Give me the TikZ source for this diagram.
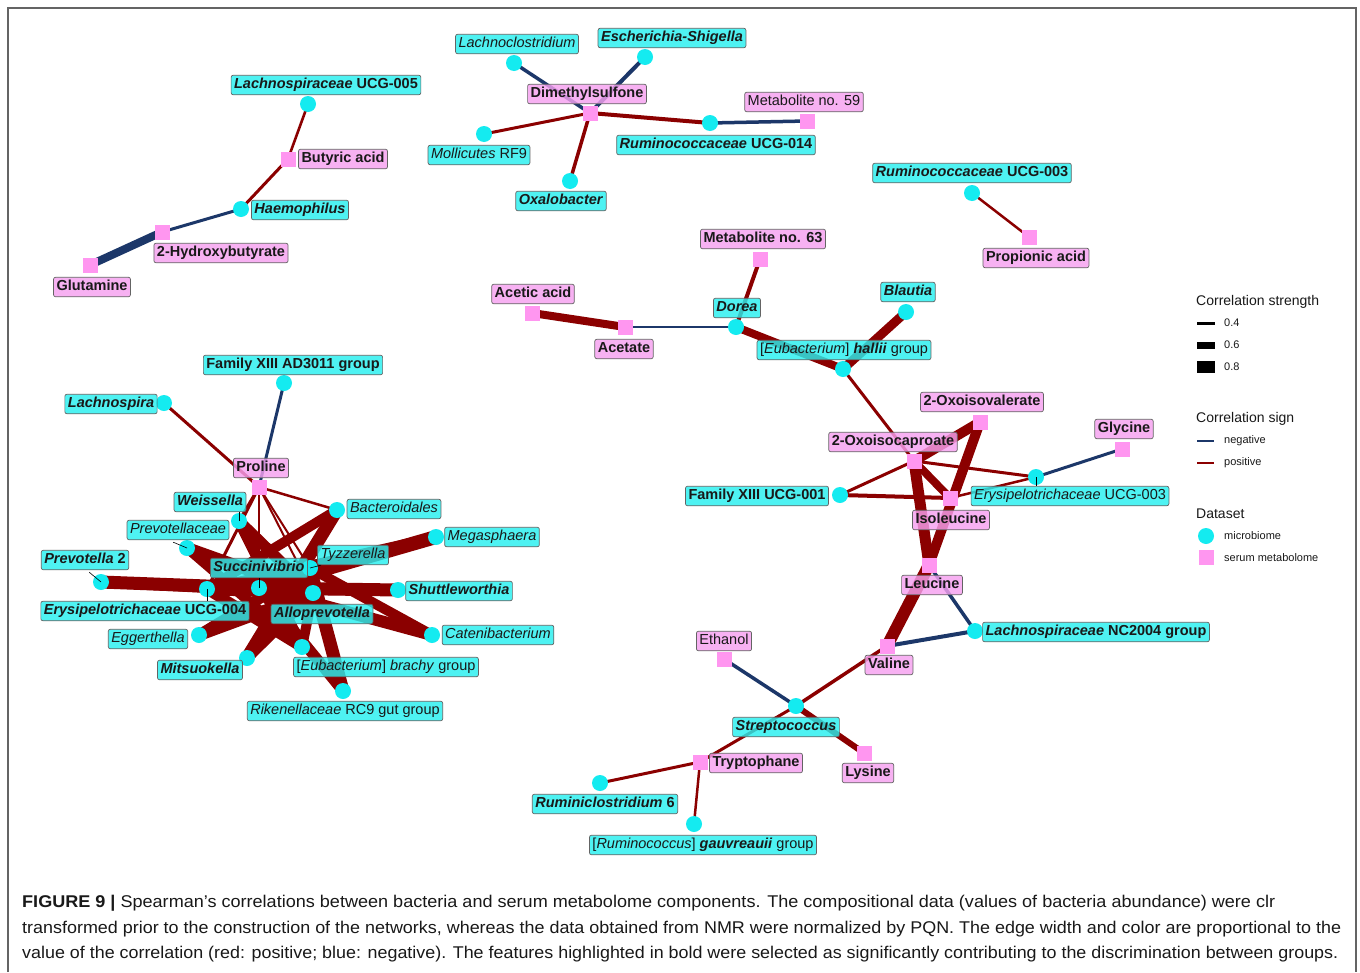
\documentclass[tikz,border=0pt]{standalone}
\usepackage{fontspec}
\setmainfont{Liberation Sans}
\usepackage{graphicx}
\usetikzlibrary{backgrounds}
\pgfdeclarelayer{paper}
\pgfsetlayers{paper,background,main}
\definecolor{cyanN}{RGB}{20,235,240}
\definecolor{cyanL}{RGB}{40,240,240}
\definecolor{pinkN}{RGB}{255,150,240}
\definecolor{pinkL}{RGB}{246,160,240}
\definecolor{redE}{RGB}{139,0,0}
\definecolor{blueE}{RGB}{28,55,105}
\definecolor{frameC}{RGB}{100,100,100}
\definecolor{txt}{RGB}{25,25,25}
\tikzset{
  mic/.style={circle,fill=cyanN,minimum size=16pt,inner sep=0pt},
  met/.style={rectangle,fill=pinkN,minimum size=15pt,inner sep=0pt},
  lab/.style={draw=frameC,line width=0.7pt,rounded corners=2pt,fill opacity=0.82,text opacity=1,
    inner xsep=3pt,inner ysep=3pt,text height=10.5pt,text depth=3pt,text=txt,yshift=-1pt,
    font=\fontsize{14.5}{17}\selectfont},
  blab/.style={lab,fill=cyanL},
  plab/.style={lab,fill=pinkL},
  posE/.style={draw=redE},
  negE/.style={draw=blueE},
  lead/.style={draw=black,line width=0.6pt},
  legt/.style={anchor=west,inner sep=0pt,text=txt,font=\fontsize{14}{16}\selectfont},
  legs/.style={anchor=west,inner sep=0pt,text=txt,font=\fontsize{11}{13}\selectfont},
}
\begin{document}
\begin{tikzpicture}[x=1pt,y=-1pt]
\useasboundingbox (0,0) rectangle (1360,972);
\begin{pgfonlayer}{paper}
\fill[white] (0,0) rectangle (1360,972);
\draw[frameC,line width=1.3pt] (8,972) -- (8,8) -- (1356,8) -- (1356,972);
\end{pgfonlayer}

% ---------------- point nodes ----------------
% top-left
\node[mic] (lu005) at (308,104) {};
\node[met] (buty) at (288,159) {};
\node[mic] (haem) at (241,209) {};
\node[met] (hb) at (162,232) {};
\node[met] (glut) at (90,265) {};
% top
\node[mic] (lclo) at (514,63) {};
\node[mic] (esch) at (645,57) {};
\node[met] (dms) at (590,113) {};
\node[met] (m59) at (807,121) {};
\node[mic] (moll) at (484,134) {};
\node[mic] (r014) at (710,123) {};
\node[mic] (oxa) at (570,181) {};
% top-right
\node[mic] (r003) at (972,193) {};
\node[met] (prop) at (1029,237) {};
% middle
\node[met] (m63) at (760,259) {};
\node[met] (acac) at (532,313) {};
\node[met] (acet) at (625,327) {};
\node[mic] (dor) at (736,327) {};
\node[mic] (blau) at (906,312) {};
\node[mic] (hall) at (843,369) {};
% right
\node[met] (oiv) at (980,422) {};
\node[met] (oic) at (914,461) {};
\node[met] (gly) at (1122,449) {};
\node[mic] (ery3) at (1036,477) {};
\node[mic] (f001) at (840,495) {};
\node[met] (ile) at (950,498) {};
\node[met] (leu) at (929,565) {};
\node[mic] (nc2004) at (975,631) {};
\node[met] (val) at (887,646) {};
\node[met] (eth) at (724,659) {};
\node[mic] (strep) at (796,706) {};
\node[met] (lys) at (864,753) {};
\node[met] (trp) at (700,762) {};
\node[mic] (rum6) at (600,783) {};
\node[mic] (gauv) at (694,824) {};
% left cluster
\node[mic] (ad3011) at (284,383) {};
\node[mic] (lspira) at (164,403) {};
\node[met] (pro) at (259,487) {};
\node[mic] (weis) at (239,521) {};
\node[mic] (pvc) at (187,548) {};
\node[mic] (pv2) at (101,582) {};
\node[mic] (succ) at (259,588) {};
\node[mic] (tyz) at (310,568) {};
\node[mic] (bact) at (337,510) {};
\node[mic] (mega) at (436,537) {};
\node[mic] (shut) at (398,590) {};
\node[mic] (ery4) at (207,589) {};
\node[mic] (allo) at (313,593) {};
\node[mic] (egg) at (199,635) {};
\node[mic] (cat) at (432,635) {};
\node[mic] (mits) at (247,658) {};
\node[mic] (brachy) at (302,647) {};
\node[mic] (rik) at (343,691) {};

% ---------------- edges ----------------
\begin{scope}[on background layer]
% top-left
\draw[posE,line width=2.6pt] (lu005.center) -- (buty.center);
\draw[posE,line width=3pt] (buty.center) -- (haem.center);
\draw[negE,line width=3pt] (haem.center) -- (hb.center);
\draw[negE,line width=8pt] (hb.center) -- (glut.center);
% top
\draw[negE,line width=3.5pt] (dms.center) -- (lclo.center);
\draw[negE,line width=4pt] (dms.center) -- (esch.center);
\draw[posE,line width=3pt] (dms.center) -- (moll.center);
\draw[posE,line width=4pt] (dms.center) -- (r014.center);
\draw[posE,line width=3.5pt] (dms.center) -- (oxa.center);
\draw[negE,line width=3.5pt] (r014.center) -- (m59.center);
% top-right
\draw[posE,line width=2.5pt] (r003.center) -- (prop.center);
% middle
\draw[posE,line width=8pt] (acac.center) -- (acet.center);
\draw[negE,line width=2.5pt] (acet.center) -- (dor.center);
\draw[posE,line width=4pt] (dor.center) -- (m63.center);
\draw[posE,line width=8pt] (dor.center) -- (hall.center);
\draw[posE,line width=9pt] (blau.center) -- (hall.center);
\draw[posE,line width=3pt] (hall.center) -- (oic.center);
% right
\draw[posE,line width=10pt] (oic.center) -- (oiv.center);
\draw[posE,line width=8pt] (oic.center) -- (ile.center);
\draw[posE,line width=11pt] (oic.center) -- (leu.center);
\draw[posE,line width=10pt] (oiv.center) -- (leu.center);
\draw[posE,line width=3pt] (oic.center) -- (f001.center);
\draw[posE,line width=3pt] (oic.center) -- (ery3.center);
\draw[posE,line width=4pt] (f001.center) -- (ile.center);
\draw[posE,line width=2.5pt] (ile.center) -- (ery3.center);
\draw[negE,line width=3pt] (ery3.center) -- (gly.center);
\draw[posE,line width=12pt] (leu.center) -- (val.center);
\draw[negE,line width=3.5pt] (leu.center) -- (nc2004.center);
\draw[negE,line width=4pt] (val.center) -- (nc2004.center);
\draw[posE,line width=3.5pt] (val.center) -- (strep.center);
\draw[negE,line width=3.5pt] (strep.center) -- (eth.center);
\draw[posE,line width=6pt] (strep.center) -- (lys.center);
\draw[posE,line width=3pt] (strep.center) -- (trp.center);
\draw[posE,line width=3pt] (trp.center) -- (rum6.center);
\draw[posE,line width=2.5pt] (trp.center) -- (gauv.center);
% Proline
\draw[negE,line width=3pt] (pro.center) -- (ad3011.center);
\draw[posE,line width=3pt] (pro.center) -- (lspira.center);
\draw[posE,line width=2.5pt] (pro.center) -- (bact.center);
\draw[posE,line width=3pt] (pro.center) -- (weis.center);
\draw[posE,line width=3pt] (pro.center) -- (ery4.center);
\draw[posE,line width=2.5pt] (pro.center) -- (succ.center);
\draw[posE,line width=2pt] (pro.center) -- (tyz.center);
\draw[posE,line width=2pt] (pro.center) -- (allo.center);
% dense cluster
\draw[posE,line width=13pt] (pv2.center) -- (succ.center);
\draw[posE,line width=11pt] (pv2.center) -- (allo.center);
\draw[posE,line width=14pt] (mega.center) -- (succ.center);
\draw[posE,line width=10pt] (mega.center) -- (ery4.center);
\draw[posE,line width=13pt] (shut.center) -- (succ.center);
\draw[posE,line width=11pt] (shut.center) -- (ery4.center);
\draw[posE,line width=12pt] (cat.center) -- (succ.center);
\draw[posE,line width=10pt] (cat.center) -- (tyz.center);
\draw[posE,line width=13pt] (bact.center) -- (mits.center);
\draw[posE,line width=10pt] (bact.center) -- (ery4.center);
\draw[posE,line width=13pt] (rik.center) -- (tyz.center);
\draw[posE,line width=11pt] (rik.center) -- (succ.center);
\draw[posE,line width=13pt] (mits.center) -- (tyz.center);
\draw[posE,line width=11pt] (mits.center) -- (allo.center);
\draw[posE,line width=12pt] (egg.center) -- (allo.center);
\draw[posE,line width=11pt] (egg.center) -- (tyz.center);
\draw[posE,line width=12pt] (pvc.center) -- (allo.center);
\draw[posE,line width=10pt] (pvc.center) -- (brachy.center);
\draw[posE,line width=11pt] (weis.center) -- (allo.center);
\draw[posE,line width=11pt] (weis.center) -- (brachy.center);
\draw[posE,line width=11pt] (brachy.center) -- (ery4.center);
\draw[posE,line width=9pt] (brachy.center) -- (succ.center);
\draw[posE,line width=12pt] (ery4.center) -- (allo.center);
\draw[posE,line width=9pt] (succ.center) -- (tyz.center);
\draw[posE,line width=11pt] (ery4.center) -- (tyz.center);
\draw[posE,line width=10pt] (brachy.center) -- (allo.center);
\end{scope}

% ---------------- labels ----------------
\node[blab] (Llu005) at (326,84) {\textbf{\textit{Lachnospiraceae} UCG-005}};
\node[plab] (Lbuty) at (343,158) {\textbf{Butyric acid}};
\node[blab] (Lhaem) at (300,209) {\textbf{\textit{Haemophilus}}};
\node[plab] (Lhb) at (221,252) {\textbf{2-Hydroxybutyrate}};
\node[plab] (Lglut) at (92,286) {\textbf{Glutamine}};

\node[blab] (Llclo) at (517,43) {\textit{Lachnoclostridium}};
\node[blab] (Lesch) at (672,37) {\textbf{\textit{Escherichia-Shigella}}};
\node[plab] (Ldms) at (587,93) {\textbf{Dimethylsulfone}};
\node[plab] (Lm59) at (804,101) {Metabolite no. 59};
\node[blab] (Lmoll) at (479,154) {\textit{Mollicutes} RF9};
\node[blab] (Lr014) at (716,144) {\textbf{\textit{Ruminococcaceae} UCG-014}};
\node[blab] (Loxa) at (561,200) {\textbf{\textit{Oxalobacter}}};

\node[blab] (Lr003) at (972,172) {\textbf{\textit{Ruminococcaceae} UCG-003}};
\node[plab] (Lprop) at (1036,257) {\textbf{Propionic acid}};

\node[plab] (Lm63) at (763,238) {\textbf{Metabolite no. 63}};
\node[plab] (Lacac) at (533,293) {\textbf{Acetic acid}};
\node[plab] (Lacet) at (624,348) {\textbf{Acetate}};
\node[blab] (Ldor) at (737,307) {\textbf{\textit{Dorea}}};
\node[blab] (Lblau) at (908,291) {\textbf{\textit{Blautia}}};
\node[blab] (Lhall) at (844,349) {[\textit{Eubacterium}] \textbf{\textit{hallii}} group};

\node[plab] (Loiv) at (982,401) {\textbf{2-Oxoisovalerate}};
\node[plab] (Loic) at (893,441) {\textbf{2-Oxoisocaproate}};
\node[plab] (Lgly) at (1124,428) {\textbf{Glycine}};
\node[blab] (Lery3) at (1070,495) {\textit{Erysipelotrichaceae} UCG-003};
\node[blab] (Lf001) at (757,495) {\textbf{Family XIII UCG-001}};
\node[plab] (Lile) at (951,519) {\textbf{Isoleucine}};
\node[plab] (Lleu) at (932,584) {\textbf{Leucine}};
\node[blab] (Lnc2004) at (1096,631) {\textbf{\textit{Lachnospiraceae} NC2004 group}};
\node[plab] (Lval) at (889,664) {\textbf{Valine}};
\node[plab] (Leth) at (724,640) {Ethanol};
\node[blab] (Lstrep) at (786,726) {\textbf{\textit{Streptococcus}}};
\node[plab] (Llys) at (868,772) {\textbf{Lysine}};
\node[plab] (Ltrp) at (756,762) {\textbf{Tryptophane}};
\node[blab] (Lrum6) at (605,803) {\textbf{\textit{Ruminiclostridium} 6}};
\node[blab] (Lgauv) at (703,844) {[\textit{Ruminococcus}] \textbf{\textit{gauvreauii}} group};

\node[blab] (Lad3011) at (293,364) {\textbf{Family XIII AD3011 group}};
\node[blab] (Llspira) at (111,403) {\textbf{\textit{Lachnospira}}};
\node[plab] (Lpro) at (261,467) {\textbf{Proline}};
\node[blab] (Lweis) at (210,501) {\textbf{\textit{Weissella}}};
\node[blab] (Lpvc) at (178,529) {\textit{Prevotellaceae}};
\node[blab] (Lpv2) at (85,559) {\textbf{\textit{Prevotella} 2}};
\node[blab] (Lsucc) at (259,567) {\textbf{\textit{Succinivibrio}}};
\node[blab] (Ltyz) at (353,554) {\textit{Tyzzerella}};
\node[blab] (Lbact) at (394,508) {\textit{Bacteroidales}};
\node[blab] (Lmega) at (492,536) {\textit{Megasphaera}};
\node[blab] (Lshut) at (459,590) {\textbf{\textit{Shuttleworthia}}};
\node[blab] (Lery4) at (145,610) {\textbf{\textit{Erysipelotrichaceae} UCG-004}};
\node[blab] (Lallo) at (322,613) {\textbf{\textit{Alloprevotella}}};
\node[blab] (Legg) at (148,638) {\textit{Eggerthella}};
\node[blab] (Lcat) at (498,634) {\textit{Catenibacterium}};
\node[blab] (Lmits) at (200,669) {\textbf{\textit{Mitsuokella}}};
\node[blab] (Lbrachy) at (386,666) {[\textit{Eubacterium}] \textit{brachy} group};
\node[blab] (Lrik) at (345,710) {\textit{Rikenellaceae} RC9 gut group};

% leaders
\draw[lead] (weis.center) -- (Lweis.south east -| weis.center);
\draw[lead] (pvc.center) -- ([xshift=-8pt]pvc.north west);
\draw[lead] (pv2.center) -- ([xshift=-6pt,yshift=4pt]pv2.north west);
\draw[lead] (ery4.center) -- (Lery4.north -| ery4.center);
\draw[lead] (succ.center) -- (Lsucc.south -| succ.center);
\draw[lead] (tyz.center) -- ([xshift=4pt]Ltyz.south west);
\draw[lead] (ery3.center) -- (Lery3.north -| ery3.center);

% ---------------- legend ----------------
\node[legt] (lgA) at (1196,302) {Correlation strength};
\node[legs] (lg04) at (1224,323) {0.4};
\node[legs] (lg06) at (1224,345) {0.6};
\node[legs] (lg08) at (1224,367) {0.8};
\fill[black] (1197,321.5) rectangle (1215,324.5);
\fill[black] (1197,341.5) rectangle (1215,348.5);
\fill[black] (1197,361) rectangle (1215,373);
\node[legt] (lgB) at (1196,419) {Correlation sign};
\node[legs] (lgn) at (1224,441) {negative};
\node[legs] (lgp) at (1224,463) {positive};
\draw[blueE,line width=1.1pt] (1197,441) -- (1214,441);
\draw[redE,line width=1.1pt] (1197,463) -- (1214,463);
\node[legt] (lgC) at (1196,514) {Dataset};
\node[mic] (lgmic) at (1206,536) {};
\node[met] (lgmet) at (1206,557) {};
\node[legs] (lgm) at (1224,536) {microbiome};
\node[legs] (lgs) at (1224,558) {serum metabolome};

% ---------------- caption ----------------
\begin{scope}[every node/.style={anchor=base west,inner sep=0pt,text=txt,font=\fontsize{17}{20}\selectfont}]
\node (cap1) at (22,907) {\resizebox{1253pt}{\height}{\textbf{FIGURE 9 |} Spearman’s correlations between bacteria and serum metabolome components. The compositional data (values of bacteria abundance) were clr}};
\node (cap2) at (22,933) {\resizebox{1319pt}{\height}{transformed prior to the construction of the networks, whereas the data obtained from NMR were normalized by PQN. The edge width and color are proportional to the}};
\node (cap3) at (22,958) {\resizebox{1316pt}{\height}{value of the correlation (red: positive; blue: negative). The features highlighted in bold were selected as significantly contributing to the discrimination between groups.}};
\end{scope}
\end{tikzpicture}
\end{document}
